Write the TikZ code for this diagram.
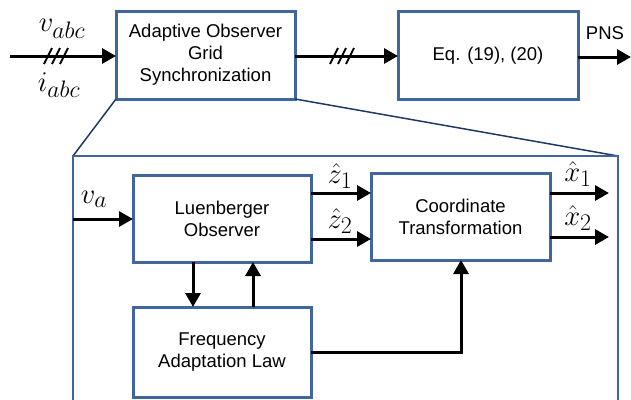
\documentclass[tikz,border=0pt]{standalone}
\usepackage{fontspec}
\setmainfont{Liberation Sans}
\usetikzlibrary{arrows.meta}
\definecolor{boxblue}{RGB}{65,102,158}
\definecolor{navy}{RGB}{31,56,100}
\tikzset{
  blk/.style={draw=boxblue, line width=3pt, fill=white, minimum width=179pt, minimum height=88pt, align=center, font=\fontsize{18.5}{22}\selectfont, inner sep=0pt, outer sep=0pt},
  sig/.style={line width=3pt, -{Triangle[length=14pt,width=15pt]}},
  hatch/.style={line width=2pt},
  lab/.style={font=\fontsize{24.88}{28}\selectfont, inner sep=0pt, scale=1.15},
  txt/.style={font=\fontsize{18.5}{22}\selectfont, inner sep=0pt}
}
\begin{document}
\begin{tikzpicture}[x=1pt,y=-1pt]
\useasboundingbox (0,0) rectangle (631,399);
% top row
\node[blk] (obs) at (205.5,55) {Adaptive Observer\\Grid\\Synchronization};
\node[blk, minimum width=180pt] (eq) at (488,55.5) {Eq. (19), (20)};
\coordinate (in) at (10,56);
\coordinate (out) at (631,57);
\draw[sig] (in) -- (obs.west |- in);
\draw[sig] (obs.east |- in) -- (eq.west |- in);
\draw[sig] (eq.east |- out) -- (out);
\foreach \x in {48,56,64} \draw[hatch] (\x-4,64) -- (\x+4,48);
\foreach \x in {334,342,350} \draw[hatch] (\x-4,64) -- (\x+4,48);
\node[lab] (vabc) at (62,29) {$v_{abc}$};
\node[lab] (iabc) at (59,85) {$i_{abc}$};
\node[txt] (pns) at (605,33) {PNS};
% zoom frame
\coordinate (ftl) at (73,156);
\coordinate (ftr) at (618,156);
\coordinate (fbl) at (73,420);
\coordinate (fbr) at (618,420);
\draw[navy, line width=1.5pt] (obs.south west) -- (ftl);
\draw[navy, line width=1.5pt] (obs.south east) -- (ftr);
\draw[boxblue, line width=2pt] (fbl) -- (ftl) -- (ftr) -- (fbr);
% inner blocks
\node[blk, minimum width=178pt, minimum height=87pt] (lo) at (222,218.5) {Luenberger\\Observer};
\node[blk, minimum width=178pt, minimum height=90pt] (fa) at (222,352) {Frequency\\Adaptation Law};
\node[blk, minimum width=179pt, minimum height=87pt] (ct) at (460.5,216.5) {Coordinate\\Transformation};
\coordinate (va) at (73,219);
\draw[sig] (va) -- (lo.west |- va);
\node[lab] (valab) at (94,199) {$v_a$};
\draw[sig] (lo.east |- 0,193) -- (ct.west |- 0,193);
\draw[sig] (lo.east |- 0,239) -- (ct.west |- 0,239);
\node[lab] (z1) at (340,176) {$\hat{z}_1$};
\node[lab] (z2) at (340,221) {$\hat{z}_2$};
\coordinate (x1) at (609,193);
\coordinate (x2) at (609,237);
\draw[sig] (ct.east |- x1) -- (x1);
\draw[sig] (ct.east |- x2) -- (x2);
\node[lab] (x1l) at (578,174) {$\hat{x}_1$};
\node[lab] (x2l) at (578,218) {$\hat{x}_2$};
\draw[sig] (lo.south -| 193,0) -- (fa.north -| 193,0);
\draw[sig] (fa.north -| 253,0) -- (lo.south -| 253,0);
\draw[sig] (fa.east |- 0,352) -| (ct.south -| 461,0);
\end{tikzpicture}
\end{document}
